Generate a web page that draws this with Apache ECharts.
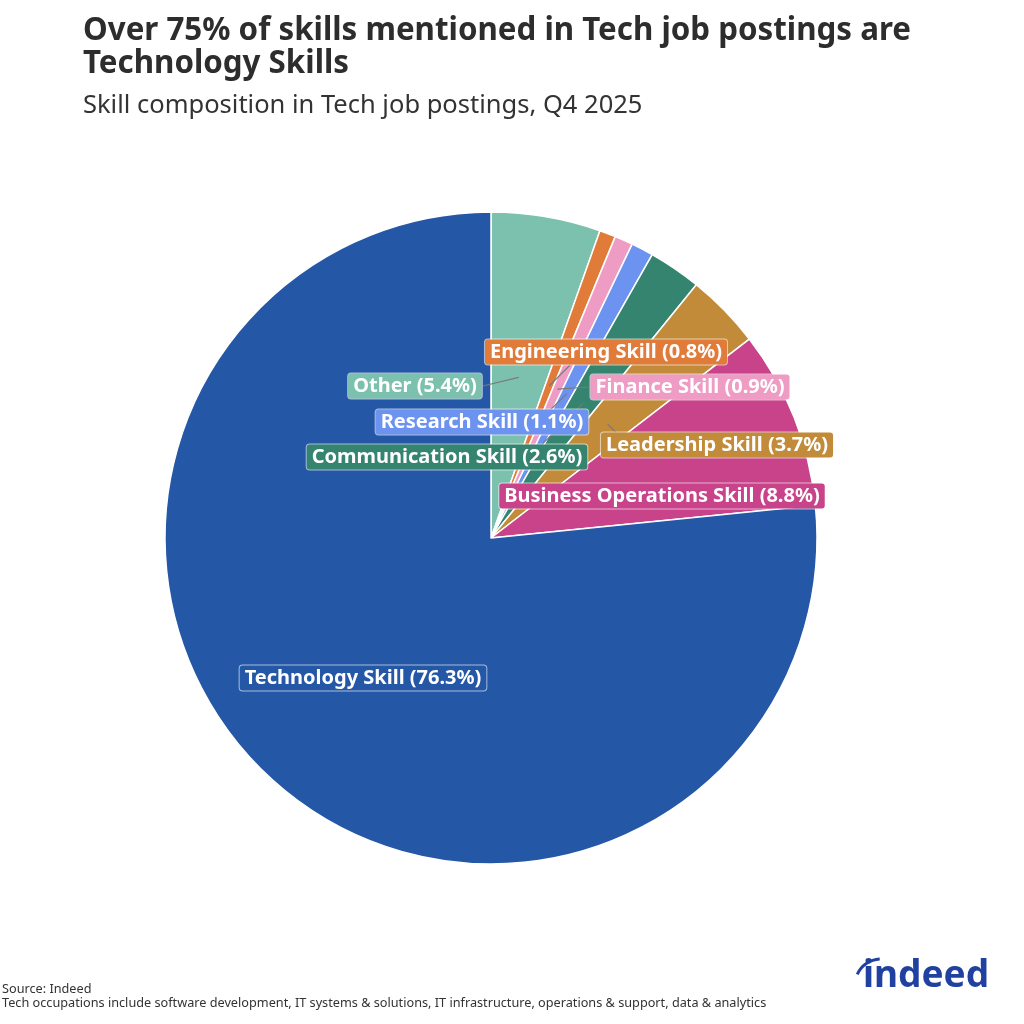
<!DOCTYPE html>
<html>
<head>
<meta charset="utf-8">
<script src="https://cdn.jsdelivr.net/npm/echarts@6/dist/echarts.min.js"></script>
<style>
  html, body { margin: 0; padding: 0; background: #fff; }
  #main { width: 1024px; height: 1024px; }
</style>
</head>
<body>
<div id="main"></div>
<script>
// data
var skillNames = ['Other', 'Engineering Skill', 'Finance Skill', 'Research Skill',
  'Communication Skill', 'Leadership Skill', 'Business Operations Skill', 'Technology Skill'];
var skillShares = [5.4, 0.8, 0.9, 1.1, 2.6, 3.7, 8.8, 76.3];
var skillColors = ['#7cc1ad', '#e07b39', '#ee9cc4', '#6b93ef', '#348470', '#c28b3a', '#c8438a', '#2457a5'];
var showLine = [true, true, true, true, true, true, false, false];

// layout (label centres, pixels)
var labelPos = [[415, 386], [606, 352], [690, 387], [482, 422], [447, 457], [717, 445], [662, 496], [363, 678]];
var cx = 491, cy = 538, R = 326;
var labelFont = 'bold 20px "Noto Sans"';

var total = skillShares.reduce(function (a, b) { return a + b; }, 0);
function anchorOf(i) {
  var cum = 0;
  for (var k = 0; k < i; k++) cum += skillShares[k];
  var t = (cum + skillShares[i] / 2) / total * Math.PI * 2;
  return [cx + R * 0.5 * Math.sin(t), cy - R * 0.5 * Math.cos(t)];
}
function labelText(i) {
  return skillNames[i] + ' (' + skillShares[i] + '%)';
}
var ctx = document.createElement('canvas').getContext('2d');
ctx.font = labelFont;

// where the leader line meets the label box
function lineEnd(a, p, w, h) {
  var l = p[0] - w / 2, r = p[0] + w / 2, t = p[1] - h / 2, b = p[1] + h / 2;
  if (a[0] < l) return [l, p[1]];
  if (a[0] > r) return [r, p[1]];
  var ey = a[1] < t ? t : b;
  var dy = Math.abs(ey - a[1]);
  var ex = a[0] + (p[0] > a[0] ? dy : -dy);
  ex = Math.min(Math.max(ex, l + 4), r - 4);
  return [ex, ey];
}

var myChart = echarts.init(document.getElementById('main'));
var pieData = skillNames.map(function (n, i) {
  return { name: n, value: skillShares[i], itemStyle: { color: skillColors[i] } };
});

var option = {
  animation: false,
  title: [
    {
      text: 'Over 75% of skills mentioned in Tech job postings are\nTechnology Skills',
      left: 83,
      top: 15,
      padding: 0,
      textStyle: { fontFamily: 'Noto Sans', fontWeight: 'bold', fontSize: 31.3, lineHeight: 33, color: '#2d2d2d' }
    },
    {
      text: 'Skill composition in Tech job postings, Q4 2025',
      left: 83,
      top: 93,
      padding: 0,
      textStyle: { fontFamily: 'Noto Sans', fontWeight: 'normal', fontSize: 25.5, color: '#333' }
    }
  ],
  graphic: [
    { type: 'text', left: 2, top: 983, style: { text: 'Source: Indeed', font: '12.7px "Noto Sans"', fill: '#333' } },
    { type: 'text', left: 2, top: 997, style: { text: 'Tech occupations include software development, IT systems & solutions, IT infrastructure, operations & support, data & analytics', font: '12.7px "Noto Sans"', fill: '#333' } },
    { type: 'text', left: 863, top: 958, style: { text: 'indeed', font: 'bold 37px "Noto Sans"', fill: '#2041a0' } },
    {
      type: 'arc',
      shape: { cx: 881, cy: 985, r: 26, startAngle: Math.PI + 0.42, endAngle: Math.PI * 1.5 - 0.05 },
      style: { stroke: '#2041a0', lineWidth: 3, fill: null }
    }
  ],
  series: [
    {
      type: 'pie',
      center: [cx, cy],
      radius: R,
      startAngle: 90,
      clockwise: true,
      itemStyle: { borderColor: '#fff', borderWidth: 1.5 },
      label: { show: false },
      labelLine: { show: false },
      data: pieData
    },
    {
      // leader lines + boxed labels
      type: 'custom',
      coordinateSystem: 'none',
      z: 3,
      silent: true,
      data: skillNames.map(function (n, i) { return i; }),
      renderItem: function (params, api) {
        var i = params.dataIndex;
        var p = labelPos[i];
        var txt = labelText(i);
        var w = ctx.measureText(txt).width + 12, h = 25;
        var a = anchorOf(i);
        var children = [];
        if (showLine[i]) {
          children.push({
            type: 'polyline', z2: 0,
            shape: { points: [a, lineEnd(a, p, w, h)] },
            style: { stroke: '#7a7a7a', lineWidth: 1.2, fill: null }
          });
        }
        children.push({
          type: 'text', z2: 10, x: p[0], y: p[1],
          style: {
            text: txt, font: labelFont, fill: '#fff', lineHeight: 22,
            align: 'center', verticalAlign: 'middle',
            backgroundColor: skillColors[i], padding: [2, 5, 1, 5],
            borderColor: 'rgba(255,255,255,0.6)', borderWidth: 1, borderRadius: 3
          }
        });
        return { type: 'group', children: children };
      }
    }
  ]
};

if (option && typeof option === 'object') {
  myChart.setOption(option);
}
</script>
</body>
</html>
